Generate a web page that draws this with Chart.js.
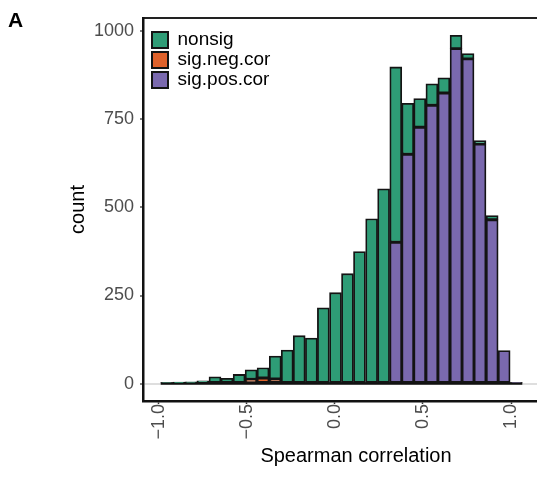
<!DOCTYPE html>
<html><head><meta charset="utf-8">
<script src="https://cdn.jsdelivr.net/npm/chart.js@4.4.1/dist/chart.umd.min.js"></script>
<style>
html,body{margin:0;padding:0;background:#fff;overflow:hidden;width:537px;height:477px;}
#wrap{position:relative;width:575px;height:477px;}
#panel{position:absolute;left:8px;top:9px;font:bold 21px "Liberation Sans",Arial,sans-serif;line-height:21px;color:#000;}
canvas{position:absolute;left:0;top:0;}
</style></head><body>
<div id="wrap"><canvas id="c" width="575" height="477"></canvas><div id="panel">A</div></div>
<script>
// histogram bin centres (Spearman correlation)
const binCenters = [-0.954,-0.885,-0.817,-0.749,-0.680,-0.612,-0.543,-0.475,-0.407,-0.338,
                    -0.270,-0.202,-0.133,-0.065,0.004,0.072,0.140,0.209,0.277,0.346,
                    0.414,0.482,0.551,0.619,0.688,0.756,0.824,0.893,0.961,1.030];
const nonsig    = [2,4,5,8,19,15,26,27,29,65,95,136,129,215,258,312,375,468,553,498,145,81,61,43,38,15,10,12,0,0];
const sigNegCor = [0,0,0,0,0,0,0,12,16,13,0,0,0,0,0,0,0,0,0,0,0,0,0,0,0,0,0,0,0,0];
const sigPosCor = [0,0,0,0,0,0,0,0,0,0,0,0,0,0,0,0,0,0,0,401,651,728,790,825,951,922,680,465,94,2];
const seriesNames = ['nonsig','sig.neg.cor','sig.pos.cor'];
const xTickValues = [-1,-0.5,0,0.5,1];
const xTickLabels = ['\u22121.0','\u22120.5','0.0','0.5','1.0'];
const yTickValues = [0,250,500,750,1000];
const yTickLabels = ['0','250','500','750','1000'];

Chart.defaults.font.family = '"Liberation Sans", Arial, sans-serif';

const baselinePlugin = {
  id: 'baseline',
  beforeDatasetsDraw(chart) {
    const bars = chart.getDatasetMeta(0).data;
    if (!bars.length) return;
    const first = bars[0], last = bars[bars.length - 1];
    const y = chart.scales.y.getPixelForValue(0);
    const ctx = chart.ctx;
    ctx.save();
    ctx.strokeStyle = '#111';
    ctx.lineWidth = 2.5;
    ctx.beginPath();
    ctx.moveTo(first.x - first.width / 2, y);
    ctx.lineTo(last.x + last.width / 2, y);
    ctx.stroke();
    ctx.restore();
  }
};
const legendPlace = {
  id: 'legendPlace',
  afterLayout(chart) {
    const lg = chart.legend, a = chart.chartArea;
    if (!lg) return;
    lg.left = a.left + 8;
    lg.right = a.right;
    lg.top = a.top + 11.5;
    lg.bottom = a.bottom;
  }
};

const common = {barPercentage: 1, categoryPercentage: 1, borderWidth: 1.8, borderColor: '#141414', borderSkipped: false};

new Chart(document.getElementById('c'), {
  type: 'bar',
  data: {
    labels: binCenters,
    datasets: [
      Object.assign({label: seriesNames[2], data: sigPosCor, backgroundColor: '#7A69AE'}, common),
      Object.assign({label: seriesNames[1], data: sigNegCor, backgroundColor: '#E0622B'}, common),
      Object.assign({label: seriesNames[0], data: nonsig, backgroundColor: '#2E9C76'}, common)
    ]
  },
  options: {
    responsive: false,
    animation: false,
    devicePixelRatio: 1,
    layout: {padding: {top: 18, right: 6, bottom: 0, left: 0}},
    plugins: {
      tooltip: {enabled: false},
      legend: {
        position: 'chartArea',
        align: 'start',
        reverse: true,
        labels: {
          boxWidth: 16, boxHeight: 16, padding: 1, color: '#000', font: {size: 19},
          generateLabels(chart) {
            return Chart.defaults.plugins.legend.labels.generateLabels(chart).map(l => Object.assign(l, {lineWidth: 2}));
          }
        }
      }
    },
    scales: {
      x: {
        type: 'linear', stacked: true, min: -1.0885, max: 1.329, offset: false,
        afterBuildTicks: s => { s.ticks = xTickValues.map(v => ({value: v})); },
        afterFit: s => { s.height = 76; },
        ticks: {callback: (v, i) => xTickLabels[i], color: '#4d4d4d', font: {size: 18},
                minRotation: 90, maxRotation: 90, padding: 0, autoSkip: false},
        grid: {offset: false, drawOnChartArea: false, tickColor: '#333', tickLength: 3, tickWidth: 1.5},
        border: {color: '#111', width: 2.5},
        title: {display: true, text: 'Spearman correlation', color: '#000', font: {size: 20}, padding: {top: 0, bottom: 9}}
      },
      x2: {
        type: 'linear', position: 'top', min: -1.0885, max: 1.329,
        grid: {display: false, drawTicks: false},
        ticks: {display: false},
        border: {color: '#222', width: 2},
        afterFit: s => { s.height = 0; }
      },
      y: {
        stacked: true, min: -49.5, max: 1038,
        afterBuildTicks: s => { s.ticks = yTickValues.map(v => ({value: v})); },
        afterFit: s => { s.width = 143; },
        ticks: {callback: (v, i) => yTickLabels[i], color: '#4d4d4d', font: {size: 18}, padding: 6},
        grid: {color: c => (c.tick && c.tick.value === 0) ? '#dedede' : 'rgba(0,0,0,0)', lineWidth: 2,
               tickColor: '#555', tickLength: 3, tickWidth: 1.5},
        border: {color: '#111', width: 2.5},
        title: {display: true, text: 'count', color: '#000', font: {size: 20}, padding: {top: 66, bottom: 0}}
      }
    }
  },
  plugins: [baselinePlugin, legendPlace]
});
</script>
</body></html>
